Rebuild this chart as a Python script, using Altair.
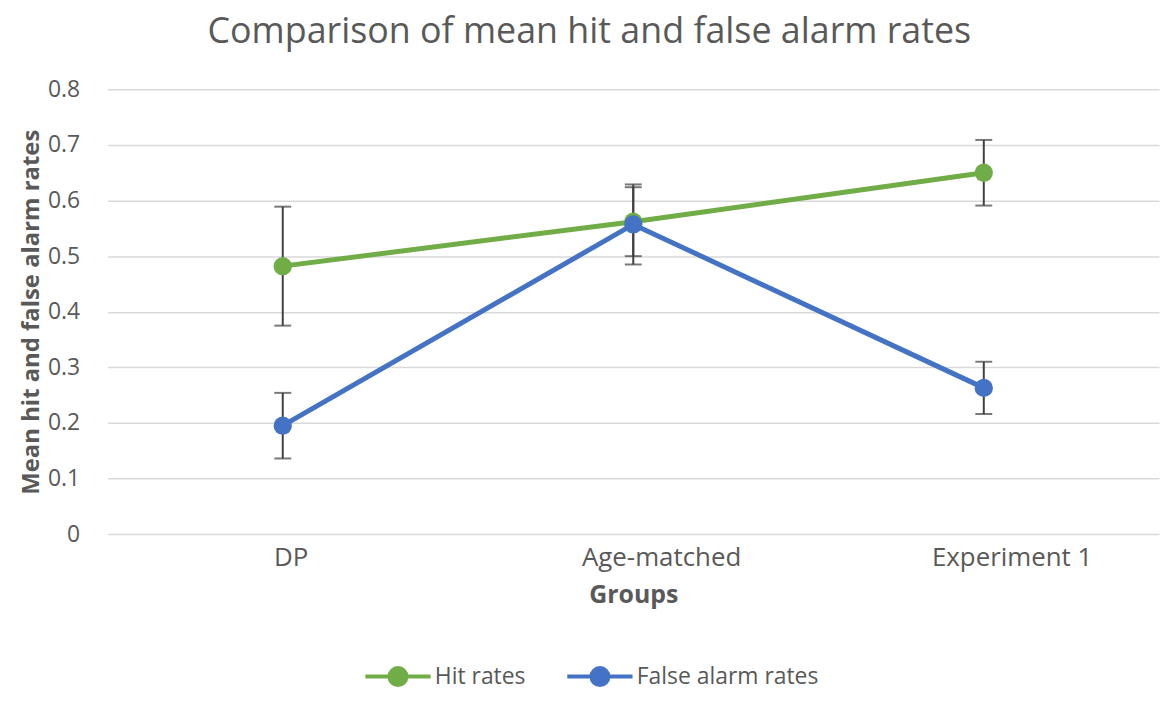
import altair as alt
import pandas as pd

groups = ["DP", "Age-matched", "Experiment 1"]
hit_rates = [0.482, 0.562, 0.650]
hit_err = [0.107, 0.062, 0.059]
fa_rates = [0.195, 0.557, 0.263]
fa_err = [0.059, 0.072, 0.047]
series_names = ["Hit rates", "False alarm rates"]
series_colors = ["#70ad47", "#4472c4"]

rows = []
for si, (vals, errs) in enumerate([(hit_rates, hit_err), (fa_rates, fa_err)]):
    for g, v, e in zip(groups, vals, errs):
        rows.append({"group": g, "series": series_names[si], "order": si,
                     "value": v, "lo": v - e, "hi": v + e})
df = pd.DataFrame(rows)

FONT = "Open Sans"
GRAY = "#595959"

x_enc = alt.X("group:N", sort=groups, title="Groups",
              scale=alt.Scale(type="point", padding=0.5),
              axis=alt.Axis(labelAngle=0, domain=False, ticks=False, grid=False,
                            labelFontSize=26, labelColor=GRAY, labelFont=FONT,
                            labelPadding=11,
                            labelOffset={"condition": {"test": "datum.value == 'DP'",
                                                       "value": 8},
                                         "value": 28},
                            titleFontSize=25, titleFontWeight="bold",
                            titleColor=GRAY, titleFont=FONT, titlePadding=12))
y_scale = alt.Scale(domain=[0, 0.8], nice=False)
y_axis = alt.Axis(values=[0, 0.1, 0.2, 0.3, 0.4, 0.5, 0.6, 0.7, 0.8],
                  format="~g", domain=False, ticks=False,
                  gridColor="#d9d9d9", gridWidth=1.5,
                  labelFontSize=23, labelColor=GRAY, labelFont=FONT,
                  labelPadding=28,
                  title="Mean hit and false alarm rates",
                  titleFontSize=24, titleFontWeight="bold", titleColor=GRAY,
                  titleFont=FONT, titlePadding=4)

color_scale = alt.Scale(domain=series_names, range=series_colors)
legend_path = ("M-1,0L1,0M-0.26,0A0.26,0.26 0 1,1 0.26,0"
               "A0.26,0.26 0 1,1 -0.26,0Z")
color_enc = alt.Color("series:N", scale=color_scale, sort=series_names,
                      legend=alt.Legend(orient="none", direction="horizontal",
                                        legendX=257, legendY=555,
                                        title=None, symbolType=legend_path,
                                        symbolSize=4300, symbolStrokeWidth=4,
                                        labelFontSize=23, labelColor=GRAY,
                                        labelFont=FONT, columnPadding=33,
                                        labelLimit=400, labelOffset=2))

base = alt.Chart(df)

err_rule = base.mark_rule(color="#404040", strokeWidth=2).encode(
    x=x_enc,
    y=alt.Y("lo:Q", scale=y_scale, axis=y_axis),
    y2="hi:Q")
cap_lo = base.mark_tick(color="#404040", thickness=2, size=17).encode(
    x=x_enc, y=alt.Y("lo:Q", scale=y_scale))
cap_hi = base.mark_tick(color="#404040", thickness=2, size=17).encode(
    x=x_enc, y=alt.Y("hi:Q", scale=y_scale))

lines = base.mark_line(strokeWidth=5).encode(
    x=x_enc, y=alt.Y("value:Q", scale=y_scale, axis=y_axis),
    color=color_enc, order="order:Q")
points = base.mark_circle(size=340, opacity=1).encode(
    x=x_enc, y=alt.Y("value:Q", scale=y_scale),
    color=alt.Color("series:N", scale=color_scale, sort=series_names, legend=None),
    order="order:Q")

chart = alt.layer(err_rule, cap_lo, cap_hi, lines, points).properties(
    width=1057, height=447,
    title=alt.Title("Comparison of mean hit and false alarm rates",
                    fontSize=36, font=FONT, fontWeight="normal", color=GRAY,
                    anchor="middle", frame="bounds", offset=28),
    autosize=alt.AutoSizeParams(type="none"),
    padding={"left": 100, "top": 80, "right": 8, "bottom": 166},
).configure(background="white").configure_view(strokeWidth=0, stroke="transparent")

chart.save("out.html", embed_options={"renderer": "svg", "actions": False})
